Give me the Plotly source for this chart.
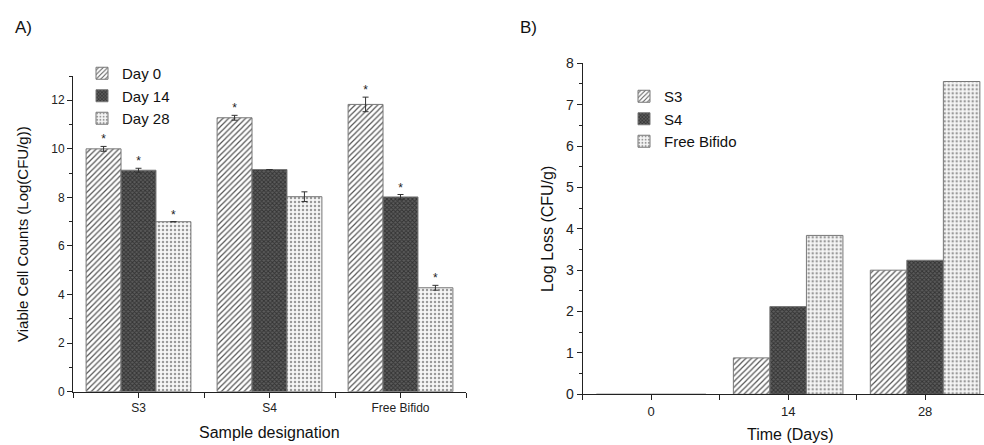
import plotly.graph_objects as go

W, H = 984, 445

# ---------------- data ----------------
samples = ["S3", "S4", "Free Bifido"]
days_a = ["Day 0", "Day 14", "Day 28"]
day0 = [10.0, 11.28, 11.83]
day14 = [9.12, 9.15, 8.02]
day28 = [7.0, 8.03, 4.28]
err0 = [0.1, 0.1, 0.3]
err14 = [0.08, 0, 0.1]
err28 = [0, 0.2, 0.1]
sig0 = [True, True, True]
sig14 = [True, False, True]
sig28 = [True, False, True]

times = ["0", "14", "28"]
groups_b = ["S3", "S4", "Free Bifido"]
loss_s3 = [0, 0.88, 3.0]
loss_s4 = [0, 2.12, 3.24]
loss_fb = [0, 3.84, 7.56]

# ---------------- styles ----------------
FONT = "Liberation Sans, Arial, sans-serif"
styles = [
    dict(color="white", pattern=dict(shape="/", fgcolor="#555555", bgcolor="white", size=4, solidity=0.3, fillmode="replace")),
    dict(color="#4a4a4a", pattern=dict(shape="x", fgcolor="#333333", bgcolor="#5c5c5c", size=3, solidity=0.5, fillmode="replace")),
    dict(color="white", pattern=dict(shape=".", fgcolor="#9a9a9a", bgcolor="#f6f6f6", size=4, solidity=0.3, fillmode="replace")),
]
LINE = dict(color="#777777", width=1)

def px_x(p):
    return p / W

def px_y(p):
    return 1 - p / H

fig = go.Figure()

# Panel A
xa = list(range(len(samples)))
nA = len(days_a)
bw = 0.8 / nA
for j, (name, vals, errs, sig) in enumerate(zip(days_a, [day0, day14, day28], [err0, err14, err28], [sig0, sig14, sig28])):
    fig.add_trace(go.Bar(
        x=xa, y=vals, name=name, xaxis="x", yaxis="y", legend="legend",
        marker=dict(color=styles[j]["color"], pattern=styles[j]["pattern"], line=LINE),
        error_y=dict(type="data", array=errs, color="#333333", thickness=1, width=3, visible=True),
    ))
    sx, sy = [], []
    for i, (v, e, s) in enumerate(zip(vals, errs, sig)):
        if s:
            sx.append(i + (j - (nA - 1) / 2) * bw)
            sy.append(v + e)
    fig.add_trace(go.Scatter(
        x=sx, y=sy, mode="text", text=["*"] * len(sx), textposition="top center",
        textfont=dict(size=12, color="#222222", family=FONT), xaxis="x", yaxis="y",
        showlegend=False, hoverinfo="skip", cliponaxis=False,
    ))

# Panel B
xb = list(range(len(times)))
for j, (name, vals) in enumerate(zip(groups_b, [loss_s3, loss_s4, loss_fb])):
    fig.add_trace(go.Bar(
        x=xb, y=vals, name=name, xaxis="x2", yaxis="y2", legend="legend2",
        marker=dict(color=styles[j]["color"], pattern=styles[j]["pattern"], line=LINE),
    ))

axcommon = dict(showline=True, linecolor="#222222", linewidth=1, ticks="outside", ticklen=5,
                tickcolor="#222222", showgrid=False, zeroline=False, mirror=False, automargin=False)

A_l, A_r, A_t, A_b = 73, 466, 76, 391.7
B_l, B_r, B_t, B_b = 582.7, 984, 63.3, 394.3

def ann(text, x, y, size, angle=0, xanchor="center"):
    return dict(text=text, x=px_x(x), y=px_y(y), xref="paper", yref="paper",
                xanchor=xanchor, yanchor="middle", textangle=angle, showarrow=False,
                font=dict(size=size, color="#111111", family=FONT))

fig.update_layout(
    template="none",
    width=W, height=H, autosize=False,
    margin=dict(l=0, r=0, t=0, b=0, pad=0),
    paper_bgcolor="white", plot_bgcolor="white",
    font=dict(family=FONT, color="#222222"),
    barmode="group", bargap=0.2, bargroupgap=0,
    xaxis=dict(**axcommon, domain=[px_x(A_l), px_x(A_r)], anchor="y", range=[-0.5, 2.5],
               tickvals=xa, ticktext=samples, tickfont=dict(size=12),
               minor=dict(tick0=0.5, dtick=1, ticks="outside", ticklen=5, tickcolor="#222222")),
    yaxis=dict(**axcommon, domain=[px_y(A_b), px_y(A_t)], anchor="x", range=[0, 13],
               dtick=2, tickfont=dict(size=12),
               minor=dict(dtick=1, ticks="outside", ticklen=3, tickcolor="#222222")),
    xaxis2=dict(**axcommon, domain=[px_x(B_l), 1.0], anchor="y2", range=[-0.5, 2.43],
                tickvals=xb, ticktext=times, tickfont=dict(size=13),
                minor=dict(tick0=0.5, dtick=1, ticks="outside", ticklen=5, tickcolor="#222222")),
    yaxis2=dict(**axcommon, domain=[px_y(B_b), px_y(B_t)], anchor="x2", range=[0, 8],
                dtick=1, tickfont=dict(size=14),
                minor=dict(dtick=0.5, ticks="outside", ticklen=3, tickcolor="#222222")),
    legend=dict(x=px_x(82), y=px_y(57), xanchor="left", yanchor="top",
                font=dict(size=15, family=FONT, color="#111111"), bgcolor="rgba(0,0,0,0)",
                tracegroupgap=0, itemwidth=30, borderwidth=0),
    legend2=dict(x=px_x(624), y=px_y(80), xanchor="left", yanchor="top",
                 font=dict(size=15, family=FONT, color="#111111"), bgcolor="rgba(0,0,0,0)",
                 tracegroupgap=0, itemwidth=30, borderwidth=0),
    annotations=[
        ann("A)", 13, 28, 17, xanchor="left"),
        ann("B)", 518, 28, 17, xanchor="left"),
        ann("Viable Cell Counts (Log(CFU/g))", 22, 234, 15, angle=-90),
        ann("Sample designation", 269, 432, 16),
        ann("Log Loss (CFU/g)", 548, 229, 16, angle=-90),
        ann("Time (Days)", 790, 434, 16),
    ],
)

fig.write_html("out.html")
